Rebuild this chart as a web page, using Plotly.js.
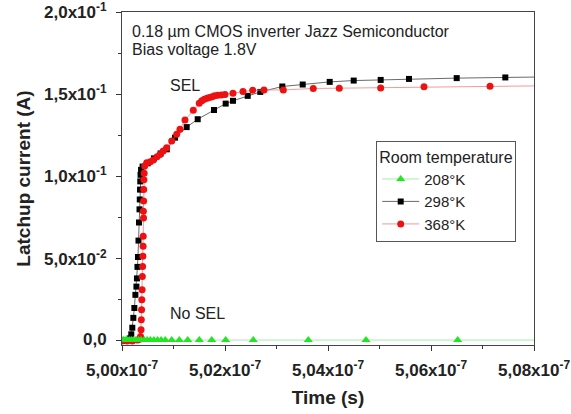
<!DOCTYPE html>
<html><head><meta charset="utf-8">
<script src="https://cdn.plot.ly/plotly-3.0.1.min.js"></script>
<style>html,body{margin:0;padding:0;background:#fff;overflow:hidden}#chart{width:571px;height:414px}</style>
</head><body><div id="chart"></div>
<script>
// 298 K series (time in s, current in A)
const t298 = [500.00e-9,500.05e-9,500.10e-9,500.15e-9,500.18e-9,500.20e-9,500.22e-9,500.24e-9,500.26e-9,500.28e-9,500.29e-9,500.30e-9,500.31e-9,500.32e-9,500.33e-9,500.34e-9,500.345e-9,500.35e-9,500.355e-9,500.36e-9,500.37e-9,500.40e-9,500.50e-9,500.62e-9,500.75e-9,500.87e-9,501.03e-9,501.256e-9,501.47e-9,501.786e-9,502.013e-9,502.155e-9,502.441e-9,502.685e-9,503.113e-9,503.509e-9,504.033e-9,504.499e-9,505.023e-9,505.573e-9,506.499e-9,507.443e-9,508.4e-9];
const i298 = [0.000,0.000,0.0005,0.0015,0.004,0.008,0.014,0.020,0.028,0.033,0.038,0.045,0.051,0.061,0.072,0.080,0.086,0.092,0.097,0.101,0.104,0.106,0.108,0.111,0.114,0.1165,0.1236,0.130,0.1348,0.1404,0.1443,0.146,0.149,0.1514,0.1547,0.1559,0.1575,0.1583,0.1587,0.1593,0.1598,0.1602,0.1606];
// 368 K series
const t368 = [500.00e-9,500.10e-9,500.20e-9,500.30e-9,500.34e-9,500.36e-9,500.37e-9,500.375e-9,500.38e-9,500.385e-9,500.39e-9,500.395e-9,500.40e-9,500.405e-9,500.41e-9,500.412e-9,500.418e-9,500.415e-9,500.42e-9,500.422e-9,500.425e-9,500.43e-9,500.44e-9,500.48e-9,500.55e-9,500.608e-9,500.68e-9,500.738e-9,500.80e-9,500.868e-9,500.965e-9,501.062e-9,501.126e-9,501.223e-9,501.384e-9,501.50e-9,501.55e-9,501.60e-9,501.65e-9,501.70e-9,501.75e-9,501.80e-9,501.86e-9,501.93e-9,502.00e-9,502.155e-9,502.349e-9,502.538e-9,502.757e-9,503.132e-9,503.714e-9,504.219e-9,505.023e-9,505.864e-9,507.146e-9,508.4e-9];
const i368 = [0.0,0.0,0.0,0.0005,0.001,0.0026,0.0067,0.0128,0.0189,0.025,0.0311,0.0392,0.0453,0.0514,0.0575,0.0636,0.0748,0.0788,0.085,0.092,0.098,0.102,0.1063,0.1083,0.109,0.110,0.112,0.1134,0.1155,0.1175,0.1215,0.1256,0.1287,0.1343,0.1402,0.1445,0.146,0.147,0.1475,0.148,0.1485,0.149,0.1493,0.1496,0.1498,0.1506,0.1516,0.1524,0.1526,0.1526,0.1535,0.1537,0.1538,0.1545,0.1549,0.1552];
// 208 K series
const t208 = [500.00e-9,500.03e-9,500.06e-9,500.10e-9,500.14e-9,500.18e-9,500.22e-9,500.27e-9,500.32e-9,500.37e-9,500.43e-9,500.49e-9,500.55e-9,500.62e-9,500.69e-9,500.76e-9,500.84e-9,500.965e-9,501.113e-9,501.276e-9,501.501e-9,501.742e-9,502.013e-9,502.549e-9,503.617e-9,504.738e-9,506.518e-9,508.6e-9];
const i208 = [0.0005,0.0005,0.0005,0.0005,0.0005,0.0005,0.0005,0.0005,0.0005,0.0005,0.0005,0.0005,0.0005,0.0005,0.0005,0.0005,0.0005,0.0005,0.0005,0.0005,0.0005,0.0005,0.0005,0.0005,0.0005,0.0005,0.0005,0.0005];

const xTickVals = [500e-9,502e-9,504e-9,506e-9,508e-9];
const xTickLabels = ["5,00x10|-7","5,02x10|-7","5,04x10|-7","5,06x10|-7","5,08x10|-7"];
const yTickVals = [0,0.05,0.1,0.15,0.2];
const yTickLabels = ["0,0","5,0x10|-2","1,0x10|-1","1,5x10|-1","2,0x10|-1"];
const seriesNames = ["208°K","298°K","368°K"];

// turn "mantissa|exponent" into rich text with a superscript
function fmt(s){
  const p = s.split('|');
  return '<b>' + (p.length > 1 ? p[0] + '<sup>' + p[1] + '</sup>' : p[0]) + '</b>';
}

const traces = [
  {x:t298,y:i298,name:seriesNames[1],legendrank:2,mode:'lines+markers',
   line:{color:'#444',width:0.8},marker:{symbol:'square',size:6,color:'#000'}},
  {x:t368,y:i368,name:seriesNames[2],legendrank:3,mode:'lines+markers',
   line:{color:'#f08080',width:0.8},marker:{symbol:'circle',size:7,color:'#ee1111'}},
  {x:t208,y:i208,name:seriesNames[0],legendrank:1,mode:'lines+markers',
   line:{color:'#8ee88e',width:0.8},marker:{symbol:'triangle-up',size:8,color:'#22e622'}}
];

const F = "Liberation Sans, Arial, sans-serif";
const TF = {family:F,size:17,color:'#222'};

// tick labels as annotations placed on the axis scales
const tickAnns = [];
xTickVals.forEach((v,k) => tickAnns.push({xref:'x',yref:'paper',x:v,y:0,xanchor:'center',yanchor:'middle',
  yshift:-24,showarrow:false,text:fmt(xTickLabels[k]),font:TF}));
yTickVals.forEach((v,k) => tickAnns.push({xref:'paper',yref:'y',x:0,y:v,xanchor:'right',yanchor:'middle',
  xshift:-13,yshift:1,showarrow:false,text:fmt(yTickLabels[k]),font:TF}));

const layout = {
  width:571,height:414,
  margin:{l:122,r:37,t:12,b:69},
  paper_bgcolor:'#fff',plot_bgcolor:'#fff',
  showlegend:true,
  font:{family:F,color:'#222'},
  xaxis:{range:[500e-9,508e-9],tickmode:'array',tickvals:xTickVals,showticklabels:false,
    ticks:'outside',ticklen:5,tickcolor:'#333',showline:true,linecolor:'#444',linewidth:1,mirror:true,
    showgrid:false,zeroline:false,
    minor:{dtick:1e-9,tick0:500e-9,ticks:'outside',ticklen:3,tickcolor:'#333',showgrid:false},
    title:{text:'<b>Time (s)</b>',font:{family:F,size:19,color:'#222'},standoff:40}},
  yaxis:{range:[-0.0025,0.2],tickmode:'array',tickvals:yTickVals,showticklabels:false,
    ticks:'outside',ticklen:5,tickcolor:'#333',showline:true,linecolor:'#444',linewidth:1,mirror:true,
    showgrid:false,zeroline:false,
    minor:{dtick:0.025,tick0:0,ticks:'outside',ticklen:3,tickcolor:'#333',showgrid:false},
    title:{text:'<b>Latchup current (A)</b>',font:{family:F,size:19,color:'#222'},standoff:80}},
  legend:{x:0.617,y:0.613,xanchor:'left',yanchor:'top',bgcolor:'#fff',bordercolor:'#555',borderwidth:1,
    font:{family:F,size:15,color:'#222'},title:{text:'Room temperature',font:{family:F,size:16,color:'#222'}},
    tracegroupgap:0,itemwidth:37},
  annotations:[
    {xref:'paper',yref:'paper',x:0.019,y:0.941,xanchor:'left',yanchor:'middle',showarrow:false,align:'left',
     text:'0.18 µm CMOS inverter Jazz Semiconductor',font:{family:F,size:16,color:'#222'}},
    {xref:'paper',yref:'paper',x:0.019,y:0.886,xanchor:'left',yanchor:'middle',showarrow:false,align:'left',
     text:'Bias voltage 1.8V',font:{family:F,size:16,color:'#222'}},
    {xref:'paper',yref:'paper',x:0.112,y:0.778,xanchor:'left',yanchor:'middle',showarrow:false,
     text:'SEL',font:{family:F,size:16,color:'#222'}},
    {xref:'paper',yref:'paper',x:0.112,y:0.096,xanchor:'left',yanchor:'middle',showarrow:false,
     text:'No SEL',font:{family:F,size:16,color:'#222'}}
  ].concat(tickAnns)
};
Plotly.newPlot('chart',traces,layout,{displayModeBar:false,staticPlot:true});
</script></body></html>
